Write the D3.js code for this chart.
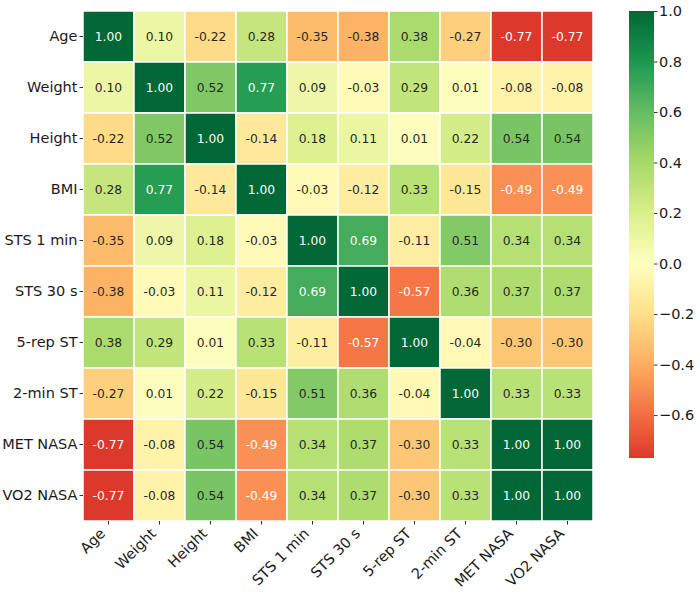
<!DOCTYPE html>
<html>
<head>
<meta charset="utf-8">
<script src="https://cdn.jsdelivr.net/npm/d3@7"></script>
<style>
  body { margin: 0; background: #fff; }
  svg { font-family: "DejaVu Sans", sans-serif; }
  .lab { font-size: 14.5px; fill: #1a1a1a; }
  .cell-text { font-size: 12.3px; }
</style>
</head>
<body>
<svg id="chart" width="700" height="595"></svg>
<script>
const variables = ["Age", "Weight", "Height", "BMI", "STS 1 min", "STS 30 s", "5-rep ST", "2-min ST", "MET NASA", "VO2 NASA"];

const corr = [
  [ 1.00,  0.10, -0.22,  0.28, -0.35, -0.38,  0.38, -0.27, -0.77, -0.77],
  [ 0.10,  1.00,  0.52,  0.77,  0.09, -0.03,  0.29,  0.01, -0.08, -0.08],
  [-0.22,  0.52,  1.00, -0.14,  0.18,  0.11,  0.01,  0.22,  0.54,  0.54],
  [ 0.28,  0.77, -0.14,  1.00, -0.03, -0.12,  0.33, -0.15, -0.49, -0.49],
  [-0.35,  0.09,  0.18, -0.03,  1.00,  0.69, -0.11,  0.51,  0.34,  0.34],
  [-0.38, -0.03,  0.11, -0.12,  0.69,  1.00, -0.57,  0.36,  0.37,  0.37],
  [ 0.38,  0.29,  0.01,  0.33, -0.11, -0.57,  1.00, -0.04, -0.30, -0.30],
  [-0.27,  0.01,  0.22, -0.15,  0.51,  0.36, -0.04,  1.00,  0.33,  0.33],
  [-0.77, -0.08,  0.54, -0.49,  0.34,  0.37, -0.30,  0.33,  1.00,  1.00],
  [-0.77, -0.08,  0.54, -0.49,  0.34,  0.37, -0.30,  0.33,  1.00,  1.00]
];

const colorbarTicks = [-0.6, -0.4, -0.2, 0.0, 0.2, 0.4, 0.6, 0.8, 1.0];

const vmin = d3.min(corr.flat()), vmax = d3.max(corr.flat());
const center = 0;
const half = Math.max(vmax - center, center - vmin);

// piecewise-linear RdYlGn, centred on 0 (colours span [-1, 1])
const stops = ["#a50026","#d73027","#f46d43","#fdae61","#fee08b","#ffffbf","#d9ef8b","#a6d96a","#66bd63","#1a9850","#006837"];
const cmap = d3.scaleLinear()
  .domain(d3.range(stops.length).map(i => center - half + 2 * half * i / (stops.length - 1)))
  .range(stops)
  .interpolate(d3.interpolateRgb)
  .clamp(true);

const margin = {left: 83, top: 11};
const size = 510;

const svg = d3.select("#chart");
const g = svg.append("g").attr("transform", `translate(${margin.left},${margin.top})`);

const x = d3.scaleBand().domain(variables).range([0, size]);
const y = d3.scaleBand().domain(variables).range([0, size]);

const cells = [];
corr.forEach((row, i) => row.forEach((v, j) => cells.push({r: variables[i], c: variables[j], v})));

function lum(col) {
  const c = d3.rgb(col);
  const f = u => { u /= 255; return u <= 0.03928 ? u / 12.92 : Math.pow((u + 0.055) / 1.055, 2.4); };
  return 0.2126 * f(c.r) + 0.7152 * f(c.g) + 0.0722 * f(c.b);
}

g.selectAll("rect.cell").data(cells).enter().append("rect")
  .attr("class", "cell")
  .attr("x", d => x(d.c))
  .attr("y", d => y(d.r))
  .attr("width", x.bandwidth())
  .attr("height", y.bandwidth())
  .attr("fill", d => cmap(d.v))
  .attr("stroke", "#fff")
  .attr("stroke-width", 1.5);

g.selectAll("text.cell-text").data(cells).enter().append("text")
  .attr("class", "cell-text")
  .attr("x", d => x(d.c) + x.bandwidth() / 2)
  .attr("y", d => y(d.r) + y.bandwidth() / 2)
  .attr("text-anchor", "middle")
  .attr("dy", "0.36em")
  .attr("fill", d => lum(cmap(d.v)) > 0.43 ? "#262626" : "#ffffff")
  .text(d => d.v.toFixed(2));

function styleAxis(sel) {
  sel.attr("font-size", null).attr("font-family", null);
  sel.select(".domain").remove();
  sel.selectAll("line").attr("stroke", "#333");
  sel.selectAll("text").attr("class", "lab");
}

// y axis
const yAxis = g.append("g").call(d3.axisLeft(y).tickSize(3.5).tickPadding(2));
styleAxis(yAxis);

// x axis
const xAxis = g.append("g").attr("transform", `translate(0,${size})`)
  .call(d3.axisBottom(x).tickSize(3.5).tickPadding(2));
styleAxis(xAxis);
xAxis.selectAll("text")
  .attr("text-anchor", "end")
  .attr("x", 0).attr("y", 0).attr("dy", 0)
  .attr("transform", "translate(-2.5,13.5) rotate(-45)");

// colorbar
const cbX = 629, cbW = 25, cbTop = 11, cbBot = 458;
const cy = d3.scaleLinear().domain([vmin, vmax]).range([cbBot, cbTop]);
const grad = svg.append("defs").append("linearGradient").attr("id", "cbgrad")
  .attr("x1", 0).attr("y1", 1).attr("x2", 0).attr("y2", 0);
d3.range(0, 1.0001, 0.02).forEach(t => {
  grad.append("stop").attr("offset", t).attr("stop-color", cmap(vmin + (vmax - vmin) * t));
});
svg.append("rect").attr("x", cbX).attr("y", cbTop).attr("width", cbW).attr("height", cbBot - cbTop)
  .attr("fill", "url(#cbgrad)");

const cbAxis = svg.append("g").attr("transform", `translate(${cbX + cbW},0)`)
  .call(d3.axisRight(cy).tickValues(colorbarTicks).tickSize(3.5).tickPadding(1.5)
    .tickFormat(d => d3.format(".1f")(d).replace("-", "\u2212")));
styleAxis(cbAxis);
</script>
</body>
</html>
